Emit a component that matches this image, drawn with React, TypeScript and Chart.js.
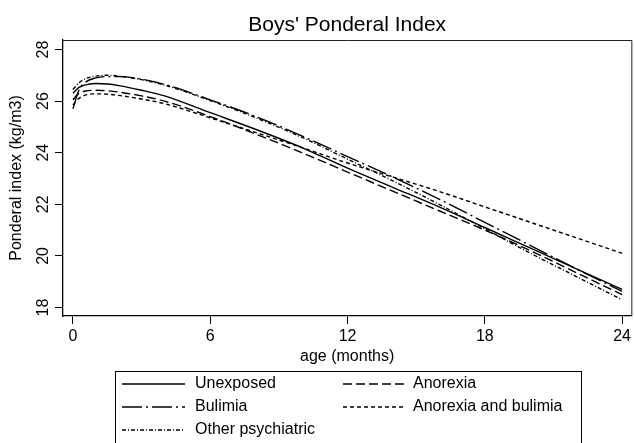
import React, { useEffect, useRef } from "react";
import { Chart, registerables } from "chart.js";

Chart.register(...registerables);

// ---- data ----
const ages = [0, 0.25, 0.5, 1, 1.5, 2, 3, 4, 6, 8, 10, 12, 14, 16, 18, 20, 22, 24];
const unexposed = [26.3, 26.52, 26.62, 26.68, 26.66, 26.6, 26.42, 26.2, 25.55, 24.9, 24.2, 23.4, 22.65, 21.9, 21.1, 20.3, 19.5, 18.7];
const anorexia = [26.05, 26.3, 26.38, 26.42, 26.4, 26.35, 26.2, 26.0, 25.4, 24.72, 24.0, 23.25, 22.5, 21.75, 21.0, 20.2, 19.35, 18.5];
const bulimia = [25.7, 26.4, 26.7, 26.9, 26.95, 26.95, 26.85, 26.65, 26.05, 25.4, 24.65, 23.85, 23.05, 22.2, 21.3, 20.4, 19.5, 18.62];
const anorexiaBulimia = [25.85, 26.1, 26.22, 26.28, 26.27, 26.22, 26.08, 25.9, 25.35, 24.78, 24.2, 23.6, 23.05, 22.5, 21.9, 21.3, 20.7, 20.1];
const otherPsychiatric = [26.45, 26.7, 26.85, 26.97, 27.0, 26.97, 26.83, 26.62, 26.02, 25.35, 24.6, 23.75, 22.9, 22.0, 21.05, 20.1, 19.2, 18.3];

const seriesLabels = ["Unexposed", "Anorexia", "Bulimia", "Anorexia and bulimia", "Other psychiatric"];
const xTickValues = [0, 6, 12, 18, 24];
const yTickValues = [18, 20, 22, 24, 26, 28];
const chartTitle = "Boys' Ponderal Index";
const xTitle = "age (months)";
const yTitle = "Ponderal index (kg/m3)";

// ---- styles ----
const FONT = "'Liberation Sans', Arial, sans-serif";
const dashes: number[][] = [[], [9, 4], [20, 4, 2, 4], [4, 3], [4, 2, 1, 2]];
const LINE_W = 1.4;

const decor = {
  id: "decor",
  afterDraw(chart: any) {
    const { ctx, chartArea: a, scales } = chart;
    ctx.save();
    // plot region frame (top & right)
    ctx.strokeStyle = "#222";
    ctx.lineWidth = 1;
    ctx.beginPath();
    ctx.moveTo(a.left, a.top + 0.5);
    ctx.lineTo(a.right + 0.5, a.top + 0.5);
    ctx.lineTo(a.right + 0.5, a.bottom);
    ctx.stroke();

    // title
    ctx.fillStyle = "#000";
    ctx.font = `21px ${FONT}`;
    ctx.textAlign = "center";
    ctx.textBaseline = "alphabetic";
    ctx.fillText(chartTitle, (a.left + a.right) / 2, 31);

    // rotated y tick labels
    ctx.font = `16px ${FONT}`;
    const ys = scales.y;
    for (const t of ys.ticks) {
      const py = ys.getPixelForValue(t.value);
      ctx.save();
      ctx.translate(48, py);
      ctx.rotate(-Math.PI / 2);
      ctx.textAlign = "center";
      ctx.textBaseline = "alphabetic";
      ctx.fillText(String(t.value), 0, 0);
      ctx.restore();
    }

    // legend
    const boxL = 115, boxT = 371, boxR = 581, boxB = 452;
    ctx.strokeStyle = "#000";
    ctx.lineWidth = 1;
    ctx.strokeRect(boxL + 0.5, boxT + 0.5, boxR - boxL, boxB - boxT);
    const rowY = [384, 407, 430];
    const cols = [
      { x0: 122, x1: 185, tx: 195 },
      { x0: 343, x1: 405, tx: 413 },
    ];
    chart.data.datasets.forEach((ds: any, i: number) => {
      const y = rowY[Math.floor(i / 2)];
      const c = cols[i % 2];
      ctx.strokeStyle = "#000";
      ctx.lineWidth = LINE_W;
      ctx.setLineDash(ds.borderDash || []);
      ctx.beginPath();
      ctx.moveTo(c.x0, y);
      ctx.lineTo(c.x1, y);
      ctx.stroke();
      ctx.setLineDash([]);
      ctx.fillStyle = "#000";
      ctx.font = `16px ${FONT}`;
      ctx.textAlign = "left";
      ctx.textBaseline = "middle";
      ctx.fillText(ds.label, c.tx, y);
    });
    ctx.restore();
  },
};

export default function App() {
  const ref = useRef<HTMLCanvasElement>(null);
  useEffect(() => {
    if (!ref.current) return;
    const seriesValues = [unexposed, anorexia, bulimia, anorexiaBulimia, otherPsychiatric];
    const chart = new Chart(ref.current, {
      type: "line",
      data: {
        datasets: seriesValues.map((vals, i) => ({
          label: seriesLabels[i],
          data: ages.map((a, k) => ({ x: a, y: vals[k] })),
          borderColor: "#000",
          borderWidth: LINE_W,
          borderDash: dashes[i],
          pointRadius: 0,
          fill: false,
          cubicInterpolationMode: "monotone" as const,
        })),
      },
      options: {
        responsive: false,
        animation: false,
        layout: { padding: { left: 0, right: 1, top: 40, bottom: 0 } },
        plugins: {
          legend: { display: false },
          title: { display: false },
          tooltip: { enabled: false },
        },
        scales: {
          x: {
            type: "linear",
            min: -0.436,
            max: 24.404,
            afterBuildTicks: (s: any) => {
              s.ticks = xTickValues.map((v) => ({ value: v }));
            },
            afterFit: (s: any) => {
              s.height = 127;
            },
            grid: { display: true, drawOnChartArea: false, drawTicks: true, tickLength: 8, color: "#000", lineWidth: 1 },
            border: { display: true, color: "#000", width: 1.3 },
            ticks: { color: "#000", font: { family: FONT, size: 16 }, padding: 3, maxRotation: 0, autoSkip: false },
            title: { display: true, text: xTitle, color: "#000", font: { family: FONT, size: 16 }, padding: { top: 0, bottom: 77 } },
          },
          y: {
            type: "linear",
            min: 17.67,
            max: 28.368,
            afterBuildTicks: (s: any) => {
              s.ticks = yTickValues.map((v) => ({ value: v }));
            },
            afterFit: (s: any) => {
              s.width = 63;
            },
            grid: { display: true, drawOnChartArea: false, drawTicks: true, tickLength: 8, color: "#000", lineWidth: 1 },
            border: { display: true, color: "#000", width: 1.3 },
            ticks: { display: false },
            title: { display: true, text: yTitle, color: "#000", font: { family: FONT, size: 16 }, padding: { top: 7, bottom: 0 } },
          },
        },
      },
      plugins: [decor],
    } as any);
    return () => chart.destroy();
  }, []);
  return (
    <div style={{ position: "absolute", left: 0, top: 0, width: 634, height: 443, background: "#fff" }}>
      <canvas ref={ref} width={634} height={443} />
    </div>
  );
}
